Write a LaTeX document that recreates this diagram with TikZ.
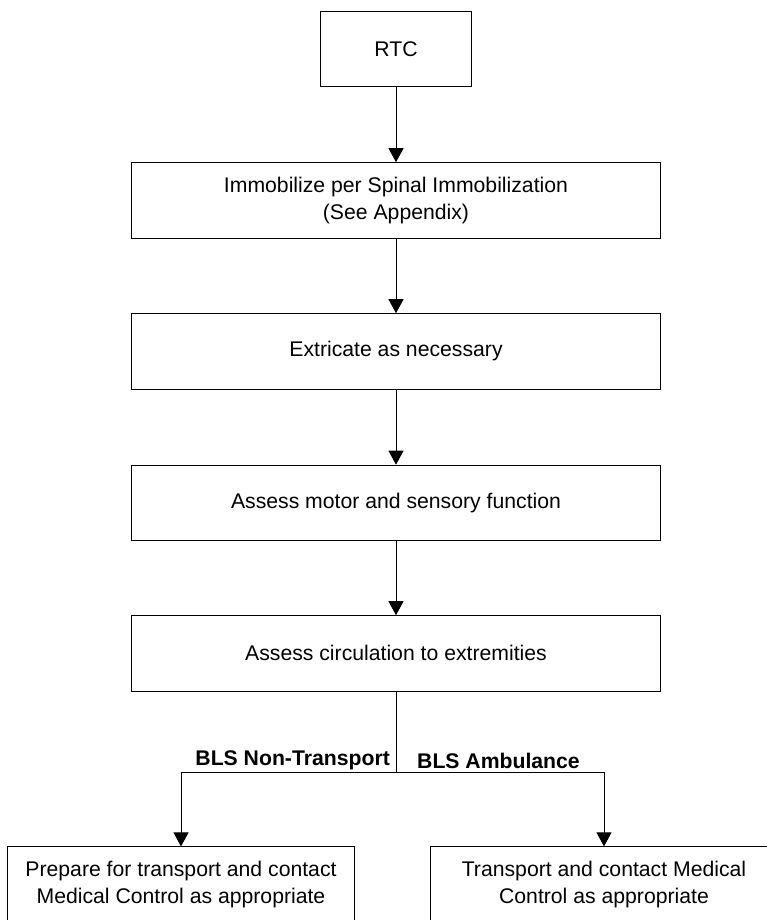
\documentclass[tikz,border=0pt]{standalone}
\usepackage{fontspec}
\setmainfont{Liberation Sans}
\usetikzlibrary{arrows.meta}

\begin{document}
\begin{tikzpicture}[x=1pt,y=-1pt,
  box/.style={draw=black,line width=0.9pt,inner sep=0pt,align=center,
    minimum height=75.3pt,font=\fontsize{21.2}{26.6}\selectfont},
  widebox/.style={box,minimum width=529pt},
  endbox/.style={box,minimum width=347pt},
  arr/.style={line width=0.9pt,-{Triangle[width=15pt,length=14pt]}},
  plain/.style={line width=0.9pt},
  branch/.style={inner sep=0pt,font=\fontsize{21.2}{26}\selectfont\bfseries}]
  \clip (0,0) rectangle (767,920);

  % main column
  \node[box,minimum width=151.5pt] (rtc) at (396,49.2) {RTC};
  \node[widebox] (immob) at (396,200.3) {Immobilize per Spinal Immobilization\\(See Appendix)};
  \node[widebox] (extr) at (396,351.3) {Extricate as necessary};
  \node[widebox] (motor) at (396,502.8) {Assess motor and sensory function};
  \node[widebox] (circ) at (396,653.3) {Assess circulation to extremities};

  % outcome boxes
  \node[endbox] (nontr) at (181,884.5) {Prepare for transport and contact\\Medical Control as appropriate};
  \node[endbox] (amb) at (604,884.5) {Transport and contact Medical\\Control as appropriate};

  \coordinate (split) at (396,772.7);

  % connectors
  \draw[arr] (rtc) -- (immob);
  \draw[arr] (immob) -- (extr);
  \draw[arr] (extr) -- (motor);
  \draw[arr] (motor) -- (circ);
  \draw[plain] (circ.south) -- (split);
  \draw[arr] (split) -| (nontr.north);
  \draw[arr] (split) -| (amb.north);

  % branch labels
  \node[branch,anchor=base east] (lblnt) at (390,765) {BLS Non-Transport};
  \node[branch,anchor=base west] (lblamb) at (417,768) {BLS Ambulance};
\end{tikzpicture}
\end{document}
